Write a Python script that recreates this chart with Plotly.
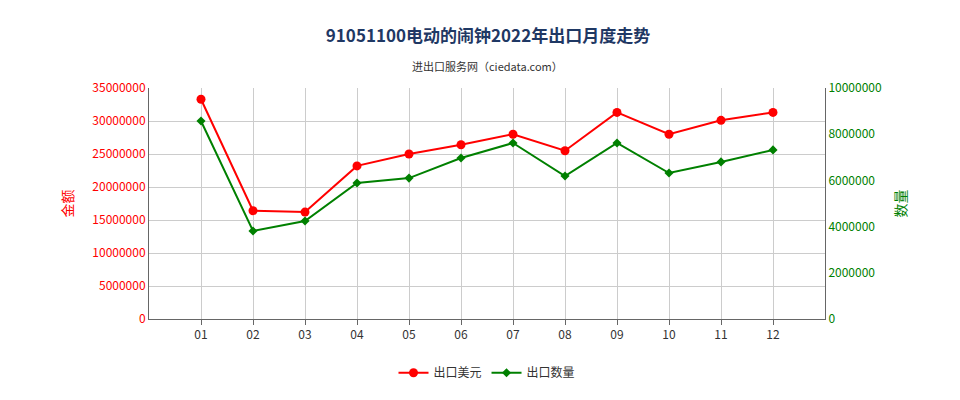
import plotly.graph_objects as go

months = ['01', '02', '03', '04', '05', '06', '07', '08', '09', '10', '11', '12']
export_usd = [33300000, 16400000, 16200000, 23200000, 25000000, 26400000,
              28000000, 25500000, 31300000, 28000000, 30100000, 31300000]
export_qty = [8570000, 3810000, 4240000, 5890000, 6100000, 6970000,
              7620000, 6190000, 7620000, 6320000, 6800000, 7320000]

font = 'Noto Sans CJK SC'
fig = go.Figure()
fig.add_trace(go.Scatter(x=months, y=export_usd, name='出口美元', mode='lines+markers',
                         line=dict(color='#ff0000', width=2), marker=dict(size=9)))
fig.add_trace(go.Scatter(x=months, y=export_qty, name='出口数量', mode='lines+markers',
                         line=dict(color='#008000', width=2), marker=dict(size=7, symbol='diamond'),
                         yaxis='y2'))

fig.update_layout(
    width=960, height=400,
    font=dict(family=font, size=12, color='#333'),
    plot_bgcolor='white', paper_bgcolor='white',
    margin=dict(l=141, r=143, t=80, b=89),
    title=dict(text='<b>91051100电动的闹钟2022年出口月度走势</b>', x=0.5, y=0.945,
               font=dict(size=17, color='#1f3864')),
    annotations=[dict(text='进出口服务网（ciedata.com）', x=0.5, y=1.14, xref='paper', yref='paper',
                      showarrow=False, font=dict(size=11, color='#333'))],
    xaxis=dict(type='category', range=[-1, 12], showgrid=True, gridcolor='#ccc',
               showline=True, linecolor='#666', ticks='outside', tickcolor='#666'),
    yaxis=dict(range=[0, 35000000], dtick=5000000, tickformat='d', showgrid=True,
               gridcolor='#ccc', tickfont=dict(color='#ff0000'), showline=True, linecolor='#666',
               title=dict(text='金额', font=dict(color='#ff0000')), zeroline=False),
    yaxis2=dict(range=[0, 10000000], dtick=2000000, tickformat='d', overlaying='y', side='right',
                showgrid=False, tickfont=dict(color='#008000'), showline=True, linecolor='#666',
                title=dict(text='数量', font=dict(color='#008000')), zeroline=False),
    legend=dict(orientation='h', x=0.5, xanchor='center', y=-0.17, yanchor='top'),
)
fig.write_html('out.html')
